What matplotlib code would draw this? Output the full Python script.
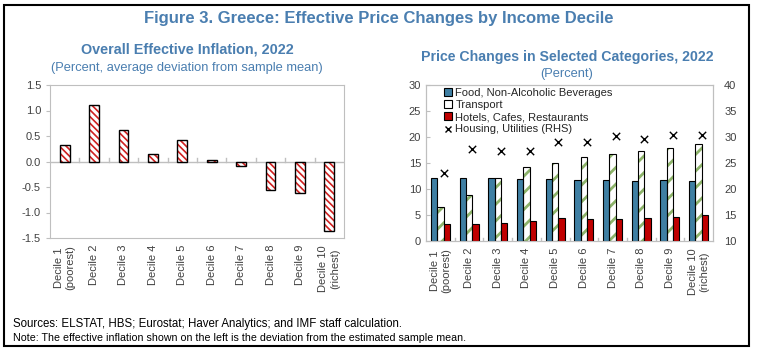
import matplotlib.pyplot as plt
import numpy as np
from matplotlib.patches import Rectangle, Patch
from matplotlib.lines import Line2D

plt.rcParams['font.family'] = ['Liberation Sans', 'DejaVu Sans']

deciles = ['Decile 1\n(poorest)', 'Decile 2', 'Decile 3', 'Decile 4', 'Decile 5',
           'Decile 6', 'Decile 7', 'Decile 8', 'Decile 9', 'Decile 10\n(richest)']
overall = [0.32, 1.10, 0.62, 0.15, 0.43, 0.02, -0.09, -0.55, -0.62, -1.37]
food = [12.2, 12.1, 12.1, 11.9, 11.9, 11.8, 11.8, 11.6, 11.7, 11.5]
transport = [6.5, 8.8, 12.1, 14.2, 15.0, 16.1, 16.8, 17.4, 17.9, 18.6]
hotels = [3.2, 3.3, 3.5, 3.9, 4.4, 4.2, 4.3, 4.4, 4.6, 5.0]
housing = [23.0, 27.7, 27.4, 27.4, 29.0, 29.0, 30.2, 29.6, 30.4, 30.4]

title_blue = '#4A7EB0'
tick_col = '#404040'
grey = '#BFBFBF'

fig = plt.figure(figsize=(7.57, 3.53), dpi=100)
fig.patches.append(Rectangle((4 / 757, 1 - 346 / 353), 745 / 757, 341 / 353,
                             transform=fig.transFigure, fill=False,
                             edgecolor='black', linewidth=1.5))

fig.text(0.5, 1 - 18 / 353, 'Figure 3. Greece: Effective Price Changes by Income Decile',
         ha='center', va='center', fontsize=12, fontweight='bold', color=title_blue)

x = np.arange(len(deciles))

# left panel
ax1 = fig.add_axes([50 / 757, 1 - 238 / 353, 294 / 757, 153 / 353])
with plt.rc_context({'hatch.linewidth': 1.2}):
    ax1.bar(x, overall, width=0.34, facecolor='white', edgecolor='#D02020',
            hatch='\\\\\\\\\\', linewidth=0, zorder=2)
ax1.bar(x, overall, width=0.34, facecolor='none', edgecolor='black',
        linewidth=1.0, zorder=3)
ax1.axhline(0, color=grey, linewidth=1, zorder=1)
ax1.set_ylim(-1.5, 1.5)
ax1.set_xlim(-0.5, 9.5)
ax1.set_yticks(np.arange(-1.5, 1.51, 0.5))
ax1.set_yticklabels(['%.1f' % v for v in np.arange(-1.5, 1.51, 0.5)])
ax1.set_xticks(x)
ax1.set_xticklabels(deciles, rotation=90, va='top')
ax1.tick_params(axis='x', length=0, pad=5, labelsize=8, colors=tick_col)
ax1.tick_params(axis='y', length=3, color=grey, labelsize=8, colors=tick_col)
for b in np.arange(0.5, 9.5, 1):
    ax1.plot([b, b], [0, 0.06], color=grey, linewidth=1, zorder=1)
for s in ax1.spines.values():
    s.set_color(grey)

fig.text(187 / 757, 1 - 50 / 353, 'Overall Effective Inflation, 2022', ha='center', va='center',
         fontsize=10.4, fontweight='bold', color=title_blue)
fig.text(187 / 757, 1 - 68 / 353, '(Percent, average deviation from sample mean)', ha='center',
         va='center', fontsize=9.3, color=title_blue)

# right panel
ax2 = fig.add_axes([426 / 757, 1 - 241 / 353, 287 / 757, 156 / 353])
w = 0.22
ax2.bar(x - w, food, width=w, color='#3F7FA3', edgecolor='black', linewidth=0.8, zorder=3)
with plt.rc_context({'hatch.linewidth': 2.0}):
    ax2.bar(x, transport, width=w, facecolor='white', edgecolor='#8DB36A', hatch='//',
            linewidth=0, zorder=2)
ax2.bar(x, transport, width=w, facecolor='none', edgecolor='black', linewidth=0.8, zorder=3)
ax2.bar(x + w, hotels, width=w, color='#C00000', edgecolor='black', linewidth=0.8, zorder=3)
ax2.set_ylim(0, 30)
ax2.set_xlim(-0.5, 9.5)
ax2.set_yticks(range(0, 31, 5))
ax2.set_xticks(x)
ax2.set_xticklabels(deciles, rotation=90, va='top')
ax2.tick_params(axis='x', length=0, pad=5, labelsize=8, colors=tick_col)
ax2.tick_params(axis='y', length=3, direction='in', color=grey, labelsize=8, colors=tick_col)
for b in np.arange(0.5, 9.5, 1):
    ax2.plot([b, b], [0, 0.6], color=grey, linewidth=1, zorder=1)
for s in ax2.spines.values():
    s.set_color(grey)

ax3 = ax2.twinx()
ax3.scatter(x + w / 2, housing, marker='x', color='black', s=28, linewidths=1.0, zorder=4)
ax3.set_ylim(10, 40)
ax3.set_yticks(range(10, 41, 5))
ax3.tick_params(axis='y', length=0, labelsize=8, colors=tick_col, pad=8)
for s in ax3.spines.values():
    s.set_color(grey)

fig.text(567 / 757, 1 - 57 / 353, 'Price Changes in Selected Categories, 2022', ha='center',
         va='center', fontsize=10.2, fontweight='bold', color=title_blue)
fig.text(567 / 757, 1 - 74 / 353, '(Percent)', ha='center', va='center',
         fontsize=9.3, color=title_blue)

handles = [Patch(facecolor='#3F7FA3', edgecolor='black', linewidth=0.8),
           Patch(facecolor='white', edgecolor='black', linewidth=0.8),
           Patch(facecolor='#C00000', edgecolor='black', linewidth=0.8),
           Line2D([], [], marker='x', color='black', linestyle='none', markersize=5)]
labels = ['Food, Non-Alcoholic Beverages', 'Transport', 'Hotels, Cafes, Restaurants',
          'Housing, Utilities (RHS)']
ax3.legend(handles, labels, loc='upper left', bbox_to_anchor=(0.04, 1.025), frameon=False,
           fontsize=8, handlelength=0.7, handleheight=0.7, handletextpad=0.3,
           labelspacing=0.2, borderaxespad=0.2, labelcolor='#262626')

fig.text(13 / 757, 1 - 324 / 353,
         'Sources: ELSTAT, HBS; Eurostat; Haver Analytics; and IMF staff calculation.',
         ha='left', va='center', fontsize=8.3)
fig.text(13 / 757, 1 - 338 / 353,
         'Note: The effective inflation shown on the left is the deviation from the estimated sample mean.',
         ha='left', va='center', fontsize=7.7)

fig.savefig('out.png', dpi=100)
